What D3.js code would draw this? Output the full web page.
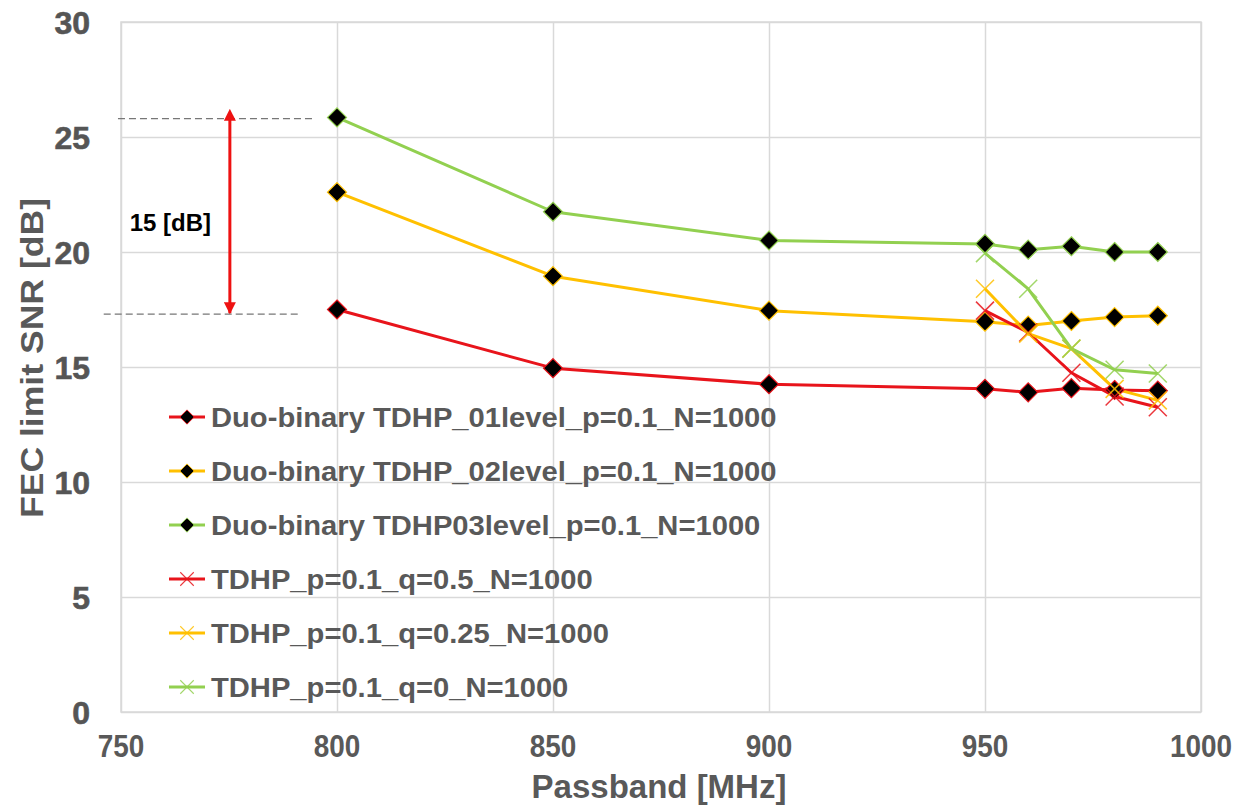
<!DOCTYPE html>
<html>
<head>
<meta charset="utf-8">
<script src="https://cdn.jsdelivr.net/npm/d3@7"></script>
<style>
  body { margin: 0; background: #fff; }
  text { font-family: "Liberation Sans", Arial, sans-serif; }
</style>
</head>
<body>
<div id="chart"></div>
<script>
// passband values (MHz)
const dbX = [800, 850, 900, 950, 960, 970, 980, 990];
const tdhpX = [950, 960, 970, 980, 990];

// Duo-binary series (diamond markers)
const duo01 = [17.5, 14.95, 14.25, 14.05, 13.9, 14.08, 14.0, 13.97];
const duo02 = [22.6, 18.95, 17.45, 16.97, 16.8, 17.0, 17.17, 17.23];
const duo03 = [25.85, 21.75, 20.5, 20.35, 20.1, 20.25, 20.0, 20.0];

// TDHP series (x markers)
const tdhpQ05 = [17.45, 16.5, 14.75, 13.72, 13.25];
const tdhpQ025 = [18.4, 16.45, 15.8, 14.05, 13.55];
const tdhpQ0 = [19.95, 18.4, 15.8, 14.88, 14.72];

const seriesNames = [
  'Duo-binary TDHP_01level_p=0.1_N=1000',
  'Duo-binary TDHP_02level_p=0.1_N=1000',
  'Duo-binary TDHP03level_p=0.1_N=1000',
  'TDHP_p=0.1_q=0.5_N=1000',
  'TDHP_p=0.1_q=0.25_N=1000',
  'TDHP_p=0.1_q=0_N=1000'
];
const seriesColors = ['#e8141b', '#ffc000', '#92d050', '#e8141b', '#ffc000', '#92d050'];

const xTicks = [750, 800, 850, 900, 950, 1000];
const yTicks = [0, 5, 10, 15, 20, 25, 30];

// annotation: 15 dB gap between the 800 MHz points
const gapLevels = [25.8, 17.3];
const gapLabel = '15 [dB]';

let margin = { top: 22, right: 38, bottom: 93, left: 121 };
let width = 1239 - margin.left - margin.right;
let height = 805 - margin.top - margin.bottom;

let svg = d3.select('#chart')
  .append('svg')
  .attr('width', 1239)
  .attr('height', 805);

let defs = svg.append('defs');
['start', 'end'].forEach(k => {
  defs.append('marker')
    .attr('id', 'arrow-' + k)
    .attr('viewBox', '0 0 10 10')
    .attr('refX', k == 'end' ? 9 : 1)
    .attr('refY', 5)
    .attr('markerWidth', 4)
    .attr('markerHeight', 4)
    .attr('markerUnits', 'strokeWidth')
    .attr('orient', 'auto-start-reverse')
    .append('path')
    .attr('d', 'M0,0 L10,5 L0,10 Z')
    .attr('fill', '#ee1111');
});

let g = svg.append('g')
  .attr('transform', `translate(${margin.left}, ${margin.top})`);

let xScale = d3.scaleLinear().domain([750, 1000]).range([0, width]);
let yScale = d3.scaleLinear().domain([0, 30]).range([height, 0]);

// grid
let xAxis = d3.axisBottom(xScale).tickValues(xTicks).tickSize(-height).tickFormat('');
let yAxis = d3.axisLeft(yScale).tickValues(yTicks).tickSize(-width).tickFormat('');
g.append('g').attr('class', 'grid').attr('transform', `translate(0, ${height})`).call(xAxis);
g.append('g').attr('class', 'grid').call(yAxis);
g.selectAll('.grid .domain').remove();
g.selectAll('.grid line').attr('stroke', '#d9d9d9').attr('stroke-width', 1.5);
g.append('rect')
  .attr('width', width).attr('height', height)
  .attr('fill', 'none').attr('stroke', '#d9d9d9').attr('stroke-width', 1.5);

// tick labels
g.selectAll('.ylab')
  .data(yTicks)
  .enter()
  .append('text')
  .attr('x', -31)
  .attr('y', d => yScale(d))
  .attr('dy', '0.36em')
  .attr('text-anchor', 'end')
  .attr('font-size', 32)
  .attr('font-weight', 'bold')
  .attr('fill', '#555')
  .attr('stroke', '#555')
  .attr('stroke-width', 0.6)
  .text(d => d);

g.selectAll('.xlab')
  .data(xTicks)
  .enter()
  .append('text')
  .attr('transform', d => `translate(${xScale(d)}, ${height + 45}) scale(0.9, 1)`)
  .attr('text-anchor', 'middle')
  .attr('font-size', 31)
  .attr('font-weight', 'bold')
  .attr('fill', '#595959')
  .text(d => d);

// axis titles
svg.append('text')
  .attr('x', margin.left + xScale(875) - 2)
  .attr('y', 798)
  .attr('text-anchor', 'middle')
  .attr('font-size', 33)
  .attr('font-weight', 'bold')
  .attr('fill', '#595959')
  .text('Passband [MHz]');

svg.append('text')
  .attr('transform', 'translate(43, 358) rotate(-90)')
  .attr('text-anchor', 'middle')
  .attr('font-size', 32)
  .attr('font-weight', 'bold')
  .attr('fill', '#595959')
  .attr('textLength', 320)
  .attr('lengthAdjust', 'spacingAndGlyphs')
  .text('FEC limit SNR [dB]');

// annotation
g.append('line')
  .attr('x1', xScale(749.3)).attr('x2', xScale(794.3))
  .attr('y1', yScale(gapLevels[0])).attr('y2', yScale(gapLevels[0]))
  .attr('stroke', '#777').attr('stroke-width', 1.2).attr('stroke-dasharray', '7,4');
g.append('line')
  .attr('x1', xScale(746)).attr('x2', xScale(791.5))
  .attr('y1', yScale(gapLevels[1])).attr('y2', yScale(gapLevels[1]))
  .attr('stroke', '#777').attr('stroke-width', 1.2).attr('stroke-dasharray', '7,4');
g.append('line')
  .attr('x1', xScale(775.2)).attr('x2', xScale(775.2))
  .attr('y1', yScale(gapLevels[0]) + 1).attr('y2', yScale(gapLevels[1]) - 1)
  .attr('stroke', '#ee1111').attr('stroke-width', 3)
  .attr('marker-start', 'url(#arrow-start)')
  .attr('marker-end', 'url(#arrow-end)');
g.append('text')
  .attr('x', xScale(752))
  .attr('y', yScale(21.3))
  .attr('dy', '0.36em')
  .attr('font-size', 24)
  .attr('font-weight', 'bold')
  .attr('fill', '#000')
  .text(gapLabel);

// series
let series = [
  { xs: dbX, ys: duo01, type: 'diamond' },
  { xs: dbX, ys: duo02, type: 'diamond' },
  { xs: dbX, ys: duo03, type: 'diamond' },
  { xs: tdhpX, ys: tdhpQ05, type: 'cross' },
  { xs: tdhpX, ys: tdhpQ025, type: 'cross' },
  { xs: tdhpX, ys: tdhpQ0, type: 'cross' }
];
series.forEach((s, i) => { s.name = seriesNames[i]; s.color = seriesColors[i]; });

let line = d3.line()
  .x(d => xScale(d[0]))
  .y(d => yScale(d[1]));

function drawMarker(sel, type, color) {
  if (type == 'diamond') {
    sel.append('path')
      .attr('d', 'M0,-9.5 L9.5,0 L0,9.5 L-9.5,0 Z')
      .attr('fill', '#000')
      .attr('stroke', color)
      .attr('stroke-width', 1.2);
  } else {
    sel.append('path')
      .attr('d', 'M-9,-9 L9,9 M-9,9 L9,-9')
      .attr('fill', 'none')
      .attr('stroke', color)
      .attr('stroke-width', 1.5)
      .attr('opacity', 0.85);
  }
}

let plot = g.append('g');
series.forEach(s => {
  let pts = s.xs.map((x, j) => [x, s.ys[j]]);
  plot.append('path')
    .datum(pts)
    .attr('d', line)
    .attr('fill', 'none')
    .attr('stroke', s.color)
    .attr('stroke-width', 3)
    .attr('stroke-linejoin', 'round');
});
series.forEach(s => {
  let pts = s.xs.map((x, j) => [x, s.ys[j]]);
  plot.selectAll(null)
    .data(pts)
    .enter()
    .append('g')
    .attr('transform', d => `translate(${xScale(d[0])}, ${yScale(d[1])})`)
    .each(function () { drawMarker(d3.select(this), s.type, s.color); });
});

// legend
let legend = svg.append('g').attr('transform', 'translate(169, 417)');
series.forEach((s, i) => {
  let item = legend.append('g').attr('transform', `translate(0, ${i * 54})`);
  item.append('line')
    .attr('x1', 0).attr('x2', 36)
    .attr('stroke', s.color).attr('stroke-width', 3);
  drawMarker(item.append('g').attr('transform', 'translate(18, 0) scale(0.75)'), s.type, s.color);
  item.append('text')
    .attr('transform', 'translate(42, 0) scale(1.08, 1)')
    .attr('dy', '0.36em')
    .attr('font-size', 27)
    .attr('font-weight', 'bold')
    .attr('fill', '#595959')
    .text(s.name);
});
</script>
</body>
</html>
